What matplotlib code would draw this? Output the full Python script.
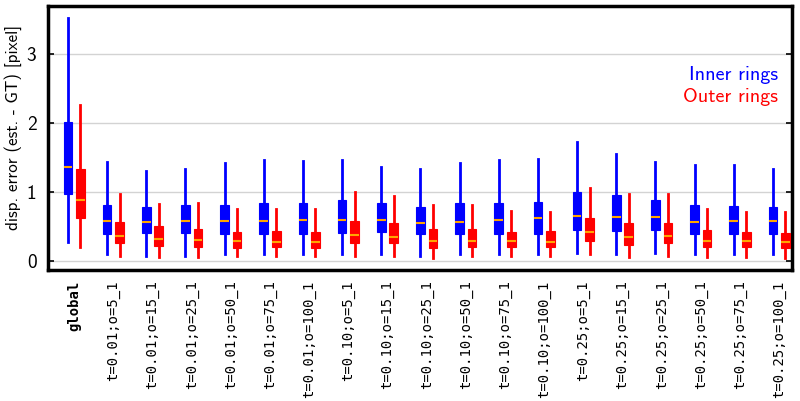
import os
import matplotlib
matplotlib.use("Agg")
import matplotlib.pyplot as plt
from matplotlib.font_manager import FontProperties

labels = ["global",
          "t=0.01;o=5_1", "t=0.01;o=15_1", "t=0.01;o=25_1", "t=0.01;o=50_1", "t=0.01;o=75_1", "t=0.01;o=100_1",
          "t=0.10;o=5_1", "t=0.10;o=15_1", "t=0.10;o=25_1", "t=0.10;o=50_1", "t=0.10;o=75_1", "t=0.10;o=100_1",
          "t=0.25;o=5_1", "t=0.25;o=15_1", "t=0.25;o=25_1", "t=0.25;o=50_1", "t=0.25;o=75_1", "t=0.25;o=100_1"]

# Inner rings (blue)
inner_low  = [0.28, 0.10, 0.08, 0.08, 0.10, 0.10, 0.10, 0.10, 0.10, 0.08, 0.11, 0.10, 0.10, 0.12, 0.11, 0.12, 0.11, 0.10, 0.10]
inner_q1   = [0.98, 0.40, 0.41, 0.41, 0.39, 0.39, 0.40, 0.41, 0.42, 0.39, 0.40, 0.40, 0.40, 0.45, 0.44, 0.45, 0.40, 0.39, 0.39]
inner_med  = [1.37, 0.58, 0.57, 0.58, 0.58, 0.58, 0.60, 0.60, 0.60, 0.56, 0.57, 0.59, 0.62, 0.66, 0.64, 0.64, 0.57, 0.58, 0.58]
inner_q3   = [2.01, 0.82, 0.78, 0.82, 0.82, 0.84, 0.84, 0.89, 0.84, 0.78, 0.84, 0.84, 0.86, 1.00, 0.96, 0.88, 0.81, 0.80, 0.79]
inner_high = [3.53, 1.44, 1.30, 1.34, 1.43, 1.46, 1.45, 1.46, 1.37, 1.33, 1.42, 1.46, 1.48, 1.72, 1.55, 1.44, 1.40, 1.40, 1.34]

# Outer rings (red)
outer_low  = [0.21, 0.08, 0.06, 0.06, 0.07, 0.07, 0.07, 0.08, 0.07, 0.05, 0.07, 0.07, 0.07, 0.10, 0.06, 0.07, 0.06, 0.06, 0.05]
outer_q1   = [0.62, 0.26, 0.22, 0.20, 0.19, 0.20, 0.19, 0.27, 0.26, 0.19, 0.20, 0.20, 0.20, 0.29, 0.24, 0.26, 0.20, 0.20, 0.19]
outer_med  = [0.88, 0.36, 0.32, 0.31, 0.29, 0.28, 0.28, 0.38, 0.35, 0.30, 0.30, 0.29, 0.28, 0.43, 0.35, 0.37, 0.30, 0.29, 0.28]
outer_q3   = [1.33, 0.57, 0.51, 0.47, 0.43, 0.44, 0.43, 0.58, 0.55, 0.46, 0.46, 0.43, 0.44, 0.62, 0.55, 0.55, 0.45, 0.43, 0.41]
outer_high = [2.26, 0.97, 0.83, 0.85, 0.75, 0.76, 0.75, 1.00, 0.95, 0.81, 0.81, 0.73, 0.72, 1.06, 0.98, 0.97, 0.75, 0.72, 0.72]

BLUE = "#0000ff"
RED = "#ff0000"
MED = "#ffa500"

CMSS = os.path.join(matplotlib.get_data_path(), "fonts", "ttf", "cmss10.ttf")

def cm(size):
    return FontProperties(fname=CMSS, size=size)

def stats(low, q1, med, q3, high):
    return [dict(whislo=a, q1=b, med=c, q3=d, whishi=e, fliers=[])
            for a, b, c, d, e in zip(low, q1, med, q3, high)]

fig = plt.figure(figsize=(8.0, 4.01), dpi=100)
ax = fig.add_axes([0.0594, 0.3279, 0.9312, 0.6559])

pos = list(range(1, len(labels) + 1))
off = 0.16
w = 0.22

for data, color, sign in [(stats(inner_low, inner_q1, inner_med, inner_q3, inner_high), BLUE, -1),
                          (stats(outer_low, outer_q1, outer_med, outer_q3, outer_high), RED, 1)]:
    ax.bxp(data, positions=[p + sign * off for p in pos], widths=w,
           patch_artist=True, showfliers=False, showcaps=False,
           boxprops=dict(facecolor=color, edgecolor=color, linewidth=0.8),
           whiskerprops=dict(color=color, linewidth=2.0),
           medianprops=dict(color=MED, linewidth=1.5),
           manage_ticks=False, zorder=3)

ax.set_xlim(0.32, 19.34)
ax.set_ylim(-0.12, 3.69)
ax.set_yticks([0, 1, 2, 3])
ax.yaxis.grid(True, color="#d3d3d3", linewidth=1.0, zorder=0)
ax.set_axisbelow(True)

ax.set_xticks(pos)
ax.set_xticklabels(labels, rotation=90, family="DejaVu Sans Mono", fontsize=10)
ax.get_xticklabels()[0].set_fontweight("bold")
ax.tick_params(axis="x", length=0, pad=8)
ax.tick_params(axis="y", direction="in", right=True, length=4, width=1.2, pad=8)
for lab in ax.get_yticklabels():
    lab.set_fontproperties(cm(14))

for s in ax.spines.values():
    s.set_linewidth(2.5)
    s.set_color("black")

ax.set_ylabel("disp. error (est. - GT) [pixel]", fontproperties=cm(12.3))
ax.yaxis.set_label_coords(-0.034, 0.542)

ax.text(0.9805, 0.74, "Inner rings", color=BLUE, transform=ax.transAxes, ha="right", va="center",
        fontproperties=cm(14.5))
ax.text(0.9805, 0.656, "Outer rings", color=RED, transform=ax.transAxes, ha="right", va="center",
        fontproperties=cm(14.5))

fig.savefig("out.png", dpi=100)
